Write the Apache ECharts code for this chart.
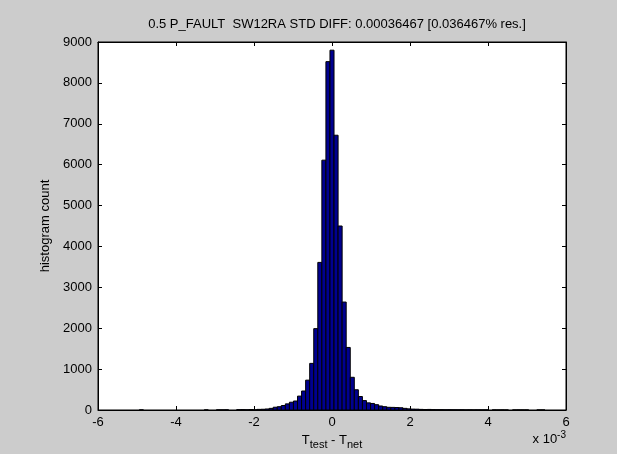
<!DOCTYPE html>
<html>
<head>
<meta charset="utf-8">
<script src="https://cdn.jsdelivr.net/npm/echarts@6/dist/echarts.min.js"></script>
<style>
    html, body { margin: 0; padding: 0; background: #cccccc; }
    #main { width: 617px; height: 454px; }
</style>
</head>
<body>
<div id="main"></div>
<script>
// histogram bins (x values in units of 1e-3)
var binStart = -4.94;
var binWidth = 0.104;
var counts = [
    3, 0, 0, 0, 0, 0, 0, 0, 0, 0,
    0, 0, 0, 0, 0, 0, 2, 0, 0, 3,
    2, 4, 0, 0, 8, 10, 6, 12, 5, 15,
    18, 25, 40, 68, 81, 110, 150, 190, 220, 340,
    465, 730, 1140, 1990, 3610, 6110, 8520, 8800, 6720, 4500,
    2640, 1530, 800, 495, 330, 230, 175, 160, 130, 98,
    81, 66, 64, 60, 55, 40, 28, 22, 20, 15,
    12, 14, 10, 8, 9, 6, 7, 5, 4, 6,
    3, 4, 2, 3, 2, 3, 0, 2, 1, 2,
    1, 0, 1, 2, 1, 1, 0, 0, 1, 1
];
var xTicks = [-6, -4, -2, 0, 2, 4, 6];
var yTicks = [0, 1000, 2000, 3000, 4000, 5000, 6000, 7000, 8000, 9000];
var titleText = '0.5 P_FAULT  SW12RA STD DIFF: 0.00036467 [0.036467% res.]';

var fontFam = '"Liberation Sans", Arial, sans-serif';

window.onload = function () {
    var chart = echarts.init(document.getElementById('main'));

    // bins -> [lo, hi, count]
    var bins = [];
    for (var i = 0; i < counts.length; i++) {
        var lo = binStart + i * binWidth;
        bins.push([lo, lo + binWidth, counts[i]]);
    }

    function axisCommon() {
        return {
            axisLine: { show: true, onZero: false, lineStyle: { color: '#000', width: 1 } },
            axisTick: { show: true, inside: true, length: 4, lineStyle: { color: '#000' } },
            splitLine: { show: false }
        };
    }

    var option = {
        backgroundColor: '#cccccc',
        animation: false,
        title: {
            text: titleText,
            left: 332,
            top: 13,
            textAlign: 'center',
            textStyle: { fontFamily: fontFam, fontSize: 13, fontWeight: 'normal', color: '#000' }
        },
        grid: {
            left: 98, right: 51, top: 42, bottom: 44,
            containLabel: false,
            outerBoundsMode: 'none',
            show: true,
            backgroundColor: '#ffffff',
            borderColor: '#000',
            borderWidth: 1
        },
        xAxis: [
            Object.assign({
                type: 'value',
                position: 'bottom',
                min: xTicks[0],
                max: xTicks[xTicks.length - 1],
                interval: 2,
                axisLabel: { color: '#000', fontFamily: fontFam, fontSize: 13, margin: 6 },
                name: '{n|T}{s|test}{n| - T}{s|net}',
                nameLocation: 'middle',
                nameGap: 19,
                nameTextStyle: {
                    color: '#000',
                    rich: {
                        n: { fontFamily: fontFam, fontSize: 13, color: '#000' },
                        s: { fontFamily: fontFam, fontSize: 11, color: '#000', padding: [9, 0, 0, 0] }
                    }
                }
            }, axisCommon()),
            Object.assign({
                type: 'value',
                position: 'top',
                min: xTicks[0],
                max: xTicks[xTicks.length - 1],
                interval: 2,
                axisLabel: { show: false }
            }, axisCommon())
        ],
        yAxis: [
            Object.assign({
                type: 'value',
                position: 'left',
                min: yTicks[0],
                max: yTicks[yTicks.length - 1],
                interval: 1000,
                axisLabel: {
                    color: '#000', fontFamily: fontFam, fontSize: 13, margin: 6,
                    formatter: function (v) { return String(v); }
                },
                name: 'histogram count',
                nameLocation: 'middle',
                nameRotate: 90,
                nameGap: 44,
                nameTextStyle: { color: '#000', fontFamily: fontFam, fontSize: 13 }
            }, axisCommon()),
            Object.assign({
                type: 'value',
                position: 'right',
                min: yTicks[0],
                max: yTicks[yTicks.length - 1],
                interval: 1000,
                axisLabel: { show: false }
            }, axisCommon())
        ],
        graphic: [{
            type: 'text',
            right: 51,
            top: 430,
            style: {
                text: '{n|x 10}{p|-3}',
                rich: {
                    n: { fontFamily: fontFam, fontSize: 13, fill: '#000', padding: [8, 0, 0, 0] },
                    p: { fontFamily: fontFam, fontSize: 10, fill: '#000' }
                }
            }
        }],
        series: [{
            type: 'custom',
            xAxisIndex: 0,
            yAxisIndex: 0,
            clip: true,
            encode: { x: [0, 1], y: 2 },
            data: bins,
            renderItem: function (params, api) {
                var n = api.value(2);
                if (!n) return null;
                var p0 = api.coord([api.value(0), 0]);
                var p1 = api.coord([api.value(1), n]);
                return {
                    type: 'rect',
                    shape: { x: p0[0], y: p1[1], width: p1[0] - p0[0], height: p0[1] - p1[1] },
                    style: { fill: '#000090', stroke: '#000000', lineWidth: 1 }
                };
            }
        }]
    };

    chart.setOption(option);
};
</script>
</body>
</html>
